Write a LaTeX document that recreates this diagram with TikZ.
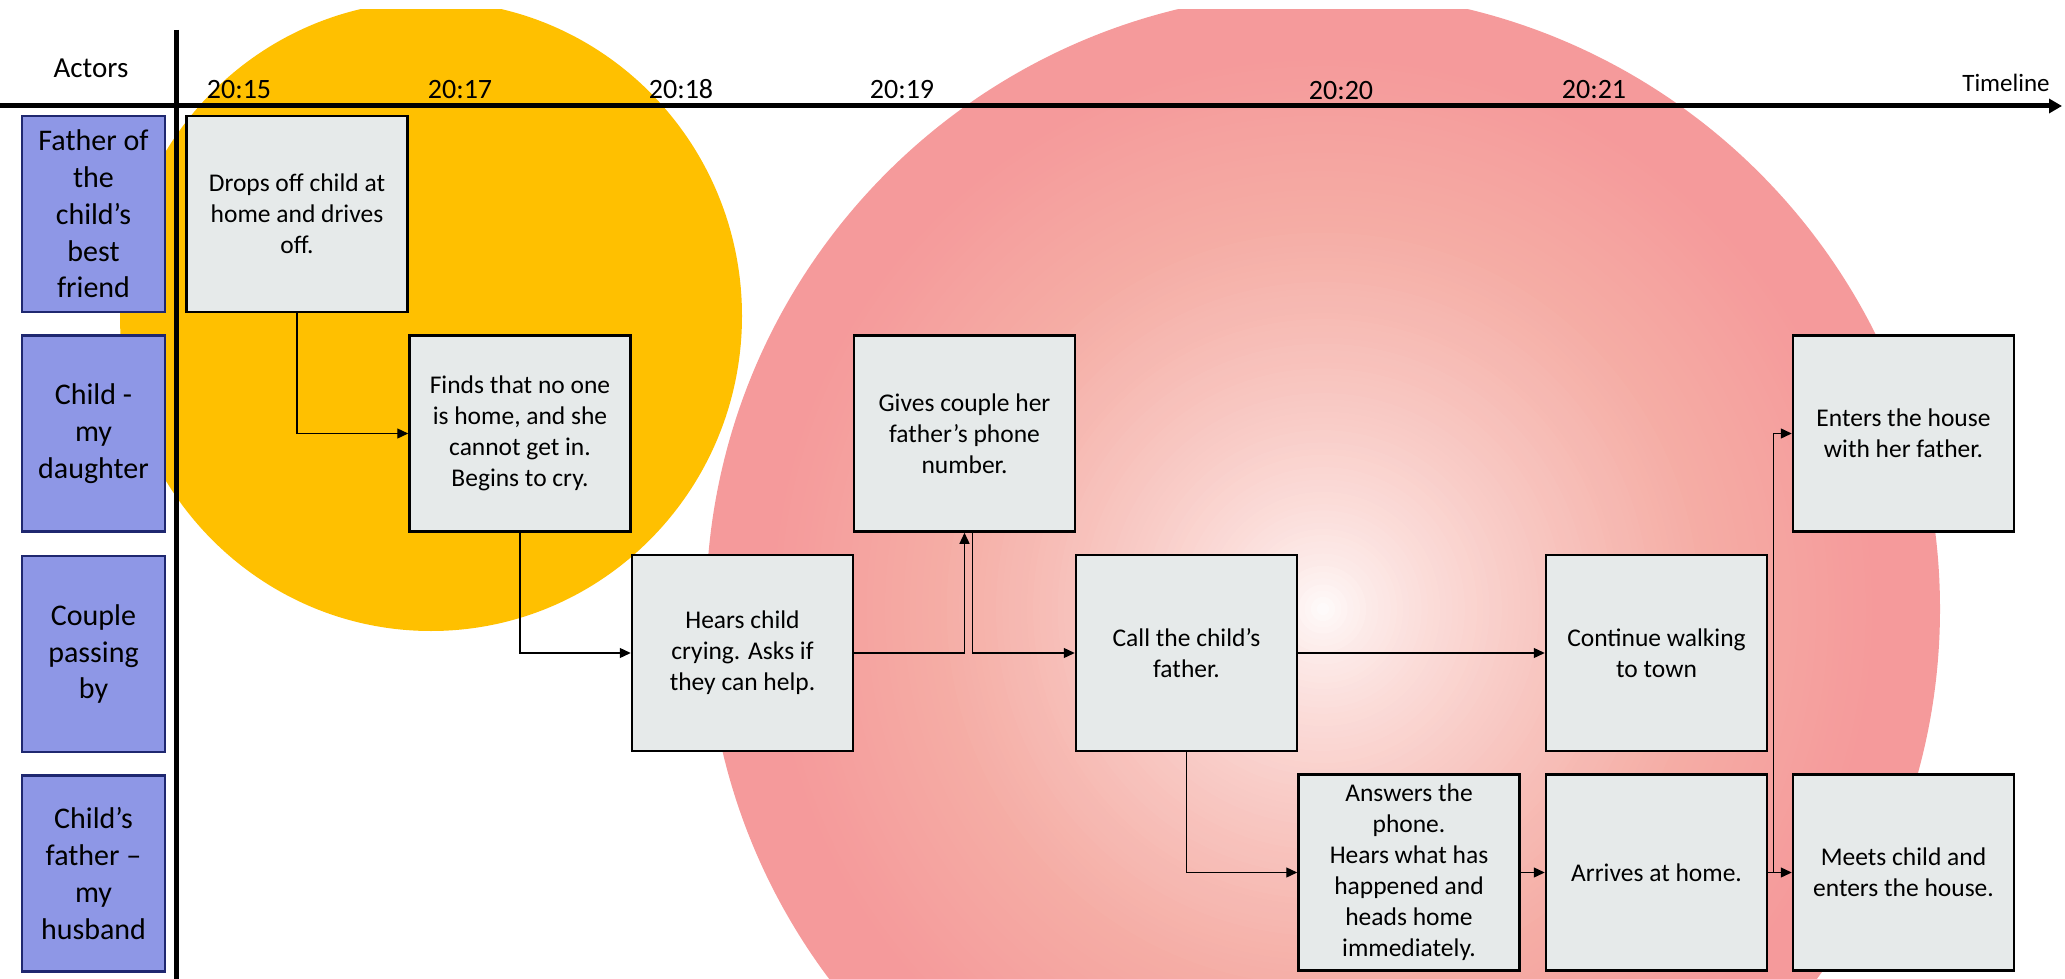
\documentclass[tikz,border=0pt]{standalone}
\usepackage{fontspec}
\setmainfont{Carlito}
\usetikzlibrary{arrows.meta}
\definecolor{gold}{HTML}{FFC000}
\definecolor{pkedge}{HTML}{F59A9B}
\definecolor{salmon}{HTML}{F5ADA5}
\definecolor{actfill}{HTML}{8E97E6}
\definecolor{actline}{HTML}{1F2870}
\definecolor{evfill}{HTML}{E6EAEA}
\tikzset{
  ev/.style={draw=black, fill=evfill, line width=2.5pt, inner sep=0pt,
    minimum width=221pt, minimum height=196pt, align=center,
    font=\fontsize{25.5}{31}\selectfont},
  actor/.style={draw=actline, fill=actfill, line width=2.5pt, inner sep=0pt,
    minimum width=143pt, minimum height=196pt, align=center,
    font=\fontsize{30}{36.7}\selectfont},
  tlabel/.style={anchor=base, inner sep=0pt, font=\fontsize{28}{30}\selectfont},
  conn/.style={line width=1.3pt, -{Triangle[length=11pt,width=10pt]}},
  axis/.style={line width=5pt}
}
\begin{document}
\begin{tikzpicture}[x=1pt,y=-1pt]
\useasboundingbox (0,0) rectangle (2065,979);
% background circles
\begin{scope}
  \clip (0,10) rectangle (2065,979);
  \fill[gold] (431,316) ellipse[x radius=311, y radius=315];
  \foreach \i in {100,99,...,1}{
    \pgfmathsetmacro{\rr}{6.17*\i}
    \ifnum\i>62
      \pgfmathtruncatemacro{\qq}{min(100,100*(\i-62)/28)}
      \edef\cc{pkedge!\qq!salmon}
    \else
      \pgfmathtruncatemacro{\pp}{100*((\i/62)^0.68)}
      \edef\cc{salmon!\pp!white}
    \fi
    \fill[fill=\cc] (1323,609) circle[radius=\rr];
  }
\end{scope}
% axes
\coordinate (vtop) at (176,30);
\coordinate (vbot) at (176,979);
\coordinate (hleft) at (0,106);
\coordinate (hright) at (2062,106);
\draw[axis] (vtop) -- (vbot);
\draw[axis, -{Triangle[length=13pt,width=14pt]}] (hleft) -- (hright);
% header texts
\node[font=\fontsize{29}{32}\selectfont] (actors) at (91,68) {Actors};
\node[font=\fontsize{25}{28}\selectfont] (timeline) at (2006,83) {Timeline};
\node[tlabel] (t15) at (239,99) {20:15};
\node[tlabel] (t17) at (460,99) {20:17};
\node[tlabel] (t18) at (681,99) {20:18};
\node[tlabel] (t19) at (902,99) {20:19};
\node[tlabel] (t20) at (1341,100) {20:20};
\node[tlabel] (t21) at (1594,99) {20:21};
% actors
\node[actor] (a1) at (93.5,214) {Father of\\the\\child’s\\best\\friend};
\node[actor] (a2) at (93.5,433.5) {Child -\\my\\daughter};
\node[actor] (a3) at (93.5,654) {Couple\\passing\\by};
\node[actor] (a4) at (93.5,873.5) {Child’s\\father –\\my\\husband};
% events
\node[ev] (A) at (297,214) {Drops off child at\\home and drives\\off.};
\node[ev] (B) at (520,433.5) {Finds that no one\\is home, and she\\cannot get in.\\Begins to cry.};
\node[ev] (C) at (742.5,653) {Hears child\\crying. Asks if\\they can help.};
\node[ev] (D) at (964.5,433.5) {Gives couple her\\father’s phone\\number.};
\node[ev] (E) at (1186.5,653) {Call the child’s\\father.};
\node[ev] (F) at (1656.5,653) {Continue walking\\to town};
\node[ev] (G) at (1409,872.5) {Answers the\\phone.\\Hears what has\\happened and\\heads home\\immediately.};
\node[ev] (H) at (1656.5,872.5) {Arrives at home.};
\node[ev] (I) at (1903.5,433.5) {Enters the house\\with her father.};
\node[ev] (J) at (1903.5,872.5) {Meets child and\\enters the house.};
% connectors
\draw[conn] (A.south) |- (B.west);
\draw[conn] (B.south) |- (C.west);
\draw[conn] (C.east) -| (D.south);
\draw[conn] ([xshift=8pt]D.south) |- (E.west);
\draw[conn] (E.east) -- (F.west);
\draw[conn] (E.south) |- (G.west);
\draw[conn] (G.east) -- (H.west);
\draw[conn] (H.east) -- (J.west);
\draw[conn] (H.east) -- ([xshift=5pt]H.east) |- (I.west);
\end{tikzpicture}
\end{document}
